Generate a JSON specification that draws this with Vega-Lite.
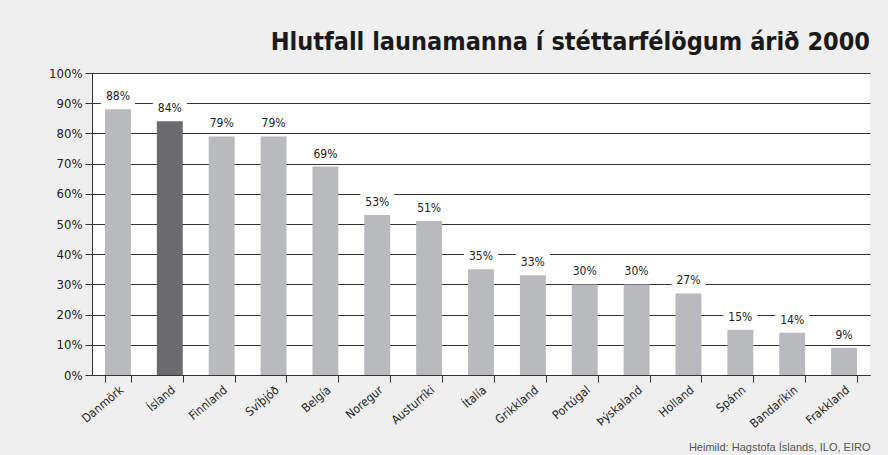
{
  "$schema": "https://vega.github.io/schema/vega-lite/v6.json",
  "width": 778,
  "height": 302,
  "autosize": {"type": "none"},
  "padding": {"left": 92, "top": 73, "right": 18, "bottom": 80},
  "background": "#efefef",
  "config": {
    "view": {"fill": "white", "stroke": null},
    "font": "DejaVu Sans Condensed"
  },
  "title": {
    "text": "Hlutfall launamanna í stéttarfélögum árið 2000",
    "anchor": "end",
    "frame": "group",
    "font": "DejaVu Sans Condensed",
    "fontSize": 25,
    "fontWeight": "bold",
    "color": "#1a1a1a",
    "offset": 12
  },
  "data": {
    "values": [
      {"land": "Danmörk", "hlutfall": 88},
      {"land": "Ísland", "hlutfall": 84},
      {"land": "Finnland", "hlutfall": 79},
      {"land": "Svíþjóð", "hlutfall": 79},
      {"land": "Belgía", "hlutfall": 69},
      {"land": "Noregur", "hlutfall": 53},
      {"land": "Austurríki", "hlutfall": 51},
      {"land": "Ítalía", "hlutfall": 35},
      {"land": "Grikkland", "hlutfall": 33},
      {"land": "Portúgal", "hlutfall": 30},
      {"land": "Þýskaland", "hlutfall": 30},
      {"land": "Holland", "hlutfall": 27},
      {"land": "Spánn", "hlutfall": 15},
      {"land": "Bandaríkin", "hlutfall": 14},
      {"land": "Frakkland", "hlutfall": 9}
    ]
  },
  "encoding": {
    "x": {
      "field": "land",
      "type": "nominal",
      "sort": null,
      "scale": {"paddingInner": 0.5, "paddingOuter": 0.25},
      "axis": {
        "title": "Heimild:  Hagstofa Íslands, ILO, EIRO",
        "titleFont": "Liberation Sans",
        "titleFontSize": 11,
        "titleFontWeight": "normal",
        "titleColor": "#555555",
        "titleAnchor": "end",
        "titlePadding": 12,
        "labelAngle": -40,
        "labelAlign": "right",
        "labelBaseline": "top",
        "labelFontSize": 12,
        "labelColor": "#222222",
        "labelPadding": 2,
        "tickBand": "extent",
        "tickSize": 7,
        "tickColor": "#333333",
        "domainColor": "#333333",
        "grid": false
      }
    },
    "y": {
      "field": "hlutfall",
      "type": "quantitative",
      "scale": {"domain": [0, 100]},
      "axis": {
        "title": null,
        "values": [0, 10, 20, 30, 40, 50, 60, 70, 80, 90, 100],
        "labelExpr": "datum.value + '%'",
        "labelFontSize": 13,
        "labelColor": "#222222",
        "labelPadding": 3,
        "tickSize": 7,
        "tickColor": "#333333",
        "domainColor": "#333333",
        "grid": true,
        "gridColor": "#333333",
        "gridWidth": 1,
        "gridOpacity": 1
      }
    }
  },
  "layer": [
    {
      "mark": {"type": "bar"},
      "encoding": {
        "color": {
          "condition": {"test": "datum.land === 'Ísland'", "value": "#6b6b6d"},
          "value": "#b9babd"
        }
      }
    },
    {
      "mark": {
        "type": "point",
        "shape": "M-1,-0.53H1V0.53H-1Z",
        "size": 1156,
        "filled": true,
        "color": "white",
        "strokeWidth": 0,
        "opacity": 1,
        "yOffset": -13
      },
      "encoding": {}
    },
    {
      "mark": {
        "type": "text",
        "baseline": "middle",
        "yOffset": -13,
        "fontSize": 12,
        "color": "#222222",
        "text": {"expr": "datum.hlutfall + '%'"}
      },
      "encoding": {}
    }
  ]
}
